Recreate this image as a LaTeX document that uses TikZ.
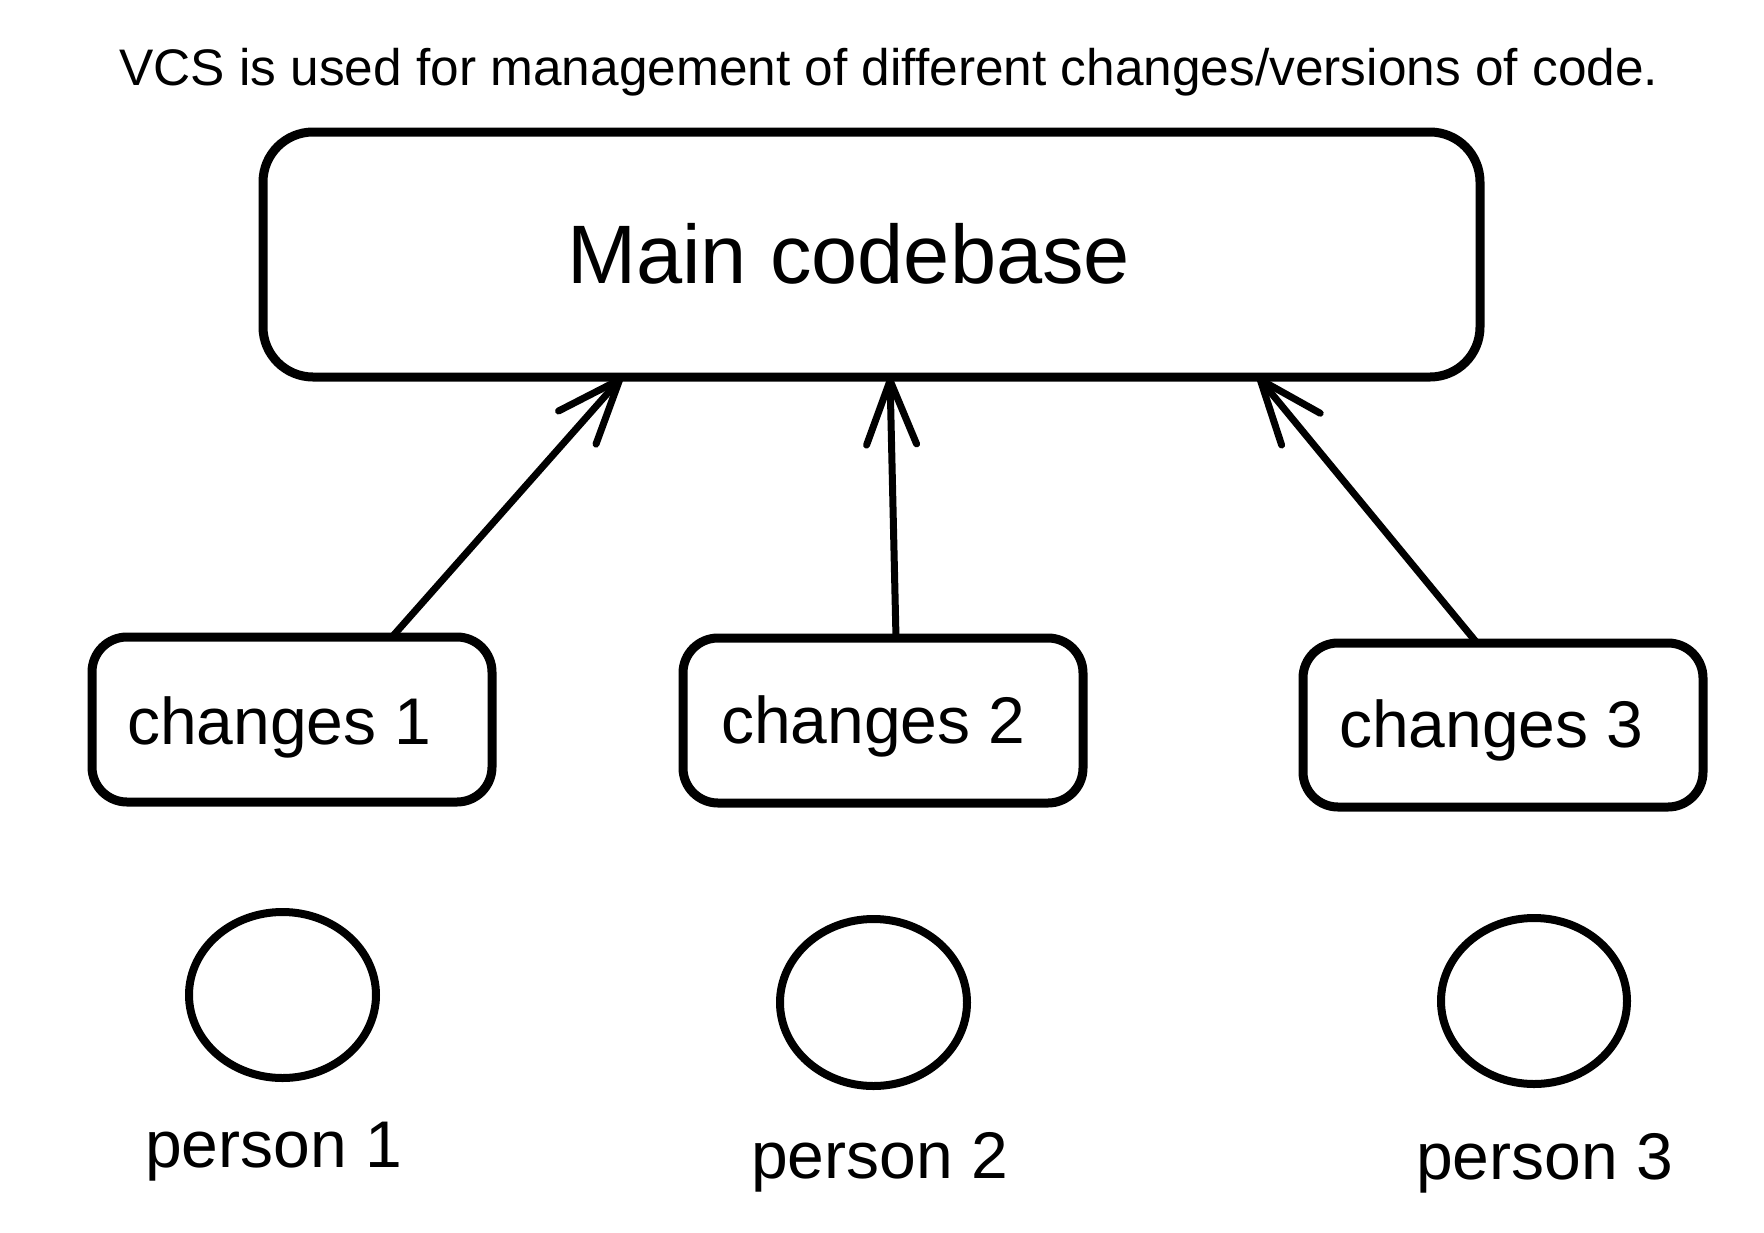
\documentclass[tikz,border=0pt]{standalone}
\usepackage{fontspec}
\setmainfont{Liberation Sans}
\usetikzlibrary{arrows.meta,shapes.geometric}
\tikzset{
  mainbox/.style={draw, line width=9pt, rounded corners=50pt, inner sep=0pt, outer sep=0pt, minimum width=1217pt, minimum height=245pt},
  chbox/.style={draw, line width=9pt, rounded corners=35pt, inner sep=0pt, outer sep=0pt, minimum width=400pt, minimum height=165pt},
  personnode/.style={draw, ellipse, line width=8pt, inner sep=0pt, outer sep=0pt, minimum width=187pt, minimum height=166pt},
  lbl/.style={inner sep=0pt, outer sep=0pt, anchor=base west, font=\fontsize{66}{79}\selectfont},
  arr/.style={line width=7pt, -{Straight Barb[length=64pt, width=50pt, line width=7pt, round]}}
}
\begin{document}
\begin{tikzpicture}[x=1pt, y=-1pt]
\useasboundingbox (0,0) rectangle (1764,1232);
\fill[white] (0,0) rectangle (1764,1232);
\node[inner sep=0pt, anchor=base west, font=\fontsize{51.4}{62}\selectfont] (title) at (119,85) {VCS is used for management of different changes/versions of code.};
\node[mainbox] (main) at (871.5,254.5) {};
\node[inner sep=0pt, anchor=base west, font=\fontsize{83}{100}\selectfont] (maintext) at (567,283) {Main codebase};
\node[chbox] (c1) at (292,719.5) {};
\node[chbox] (c2) at (883,720.5) {};
\node[chbox, minimum height=164pt] (c3) at (1503,725) {};
\node[lbl] (t1) at (127,744) {changes 1};
\node[lbl] (t2) at (721,743) {changes 2};
\node[lbl] (t3) at (1339,747) {changes 3};
\node[personnode] (p1) at (282.5,995) {};
\node[personnode, minimum height=167pt] (p2) at (873.5,1002.5) {};
\node[personnode, minimum width=186pt] (p3) at (1534,1001) {};
\node[lbl] (n1) at (145,1167) {person 1};
\node[lbl] (n2) at (751,1178) {person 2};
\node[lbl] (n3) at (1416,1179) {person 3};
\draw[arr] ([xshift=100pt]c1.north) -- ([xshift=-249.5pt]main.south);
\draw[arr] ([xshift=13pt]c2.north) -- ([xshift=18.5pt]main.south);
\draw[arr] ([xshift=-26pt]c3.north) -- ([xshift=386.5pt]main.south);
\end{tikzpicture}
\end{document}
